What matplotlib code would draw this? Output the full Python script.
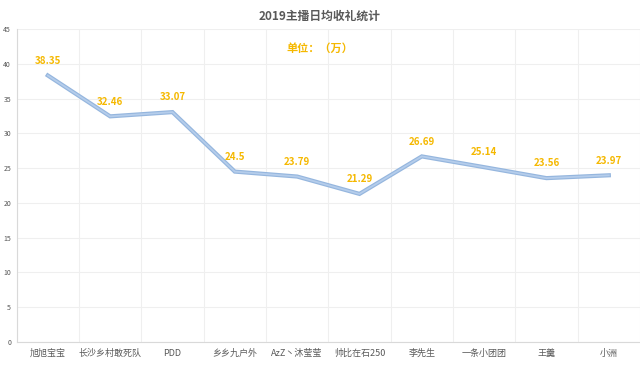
import matplotlib
matplotlib.use("Agg")
import matplotlib.pyplot as plt
import numpy as np

plt.rcParams['font.family'] = ['Noto Sans CJK SC', 'DejaVu Sans']

categories = ["旭旭宝宝", "长沙乡村敢死队", "PDD", "乡乡九户外", "AzZ丶沐莹莹",
              "帅比在石250", "李先生", "一条小团团", "王羹", "小洲"]
values = [38.35, 32.46, 33.07, 24.5, 23.79, 21.29, 26.69, 25.14, 23.56, 23.97]
value_labels = ["38.35", "32.46", "33.07", "24.5", "23.79", "21.29", "26.69", "25.14", "23.56", "23.97"]
yticks = [0, 5, 10, 15, 20, 25, 30, 35, 40, 45]

fig = plt.figure(figsize=(6.4, 3.69), dpi=100)
ax = fig.add_axes([0.026, 0.074, 0.974, 0.8466])

x = np.arange(len(categories))
ax.plot(x, values, color="#95b6de", linewidth=3.0, solid_joinstyle='miter', zorder=3)
ax.plot(x, values, color="#b5cdeb", linewidth=1.3, solid_joinstyle='miter', zorder=4)

gold = "#f5b800"
for xi, v, lab in zip(x, values, value_labels):
    ax.annotate(lab, (xi, v), xytext=(0, 7), textcoords="offset points",
                ha="center", va="bottom", color=gold, fontsize=7, fontweight="bold",
                zorder=5)

ax.set_xlim(-0.5, len(categories) - 0.5)
ax.set_ylim(0, 45)
ax.set_yticks(yticks)
ax.set_yticklabels([str(t) for t in yticks], fontsize=5, color="#555555")
ax.set_xticks(x)
ax.set_xticklabels(categories, fontsize=6.5, color="#595959")
ax.set_xticks(np.arange(len(categories) + 1) - 0.5, minor=True)
ax.tick_params(axis='both', which='both', length=0)
ax.tick_params(axis='y', pad=4)
ax.tick_params(axis='x', pad=5)

ax.grid(axis='y', which='major', color="#efefef", linewidth=0.8)
ax.grid(axis='x', which='minor', color="#efefef", linewidth=0.8)
ax.grid(axis='x', which='major', visible=False)
ax.set_axisbelow(True)

for s in ['top', 'right']:
    ax.spines[s].set_visible(False)
ax.spines['left'].set_color("#d9d9d9")
ax.spines['bottom'].set_color("#d9d9d9")
ax.spines['left'].set_linewidth(0.8)
ax.spines['bottom'].set_linewidth(0.8)

fig.text(0.5, 0.957, "2019主播日均收礼统计", ha="center", va="center",
         fontsize=8.5, fontweight="bold", color="#595959")
fig.text(0.5, 0.87, "单位：（万）", ha="center", va="center",
         fontsize=8, fontweight="bold", color=gold)

fig.savefig("out.png", dpi=100)
